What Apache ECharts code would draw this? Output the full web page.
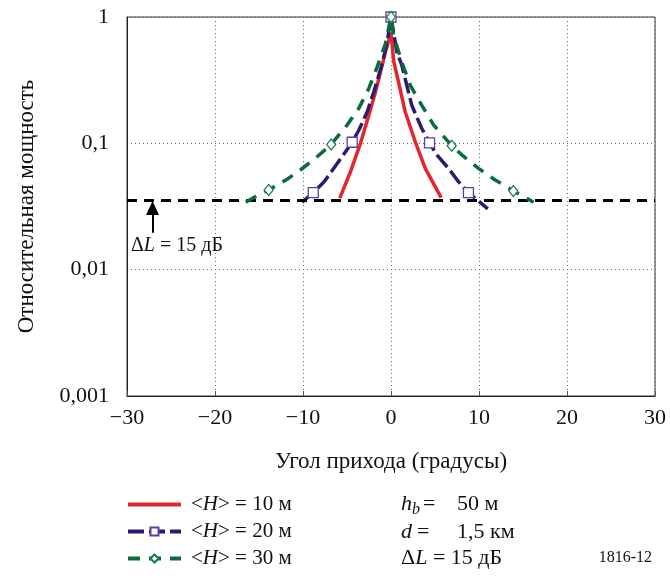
<!DOCTYPE html>
<html><head><meta charset="utf-8">
<script src="https://cdn.jsdelivr.net/npm/echarts@6/dist/echarts.min.js"></script>
<style>html,body{margin:0;padding:0;background:#fff}#c{width:670px;height:581px}</style>
</head><body><div id="c"></div>
<script>
// ---- data ----
const seriesNames = ['<H> = 10 м', '<H> = 20 м', '<H> = 30 м'];
const yTickLabels = ['0,001', '0,01', '0,1', '1'];
const xAxisTitle = 'Угол прихода (градусы)';
const yAxisTitle = 'Относительная мощность';

const redX = [-5.82, -4.6, -3.47, -2.52, -1.76, -1.19, -0.63, 0, 0.3, 0.85, 1.61, 2.75, 3.89, 5.7];
const redY = [0.0368, 0.0597, 0.1, 0.167, 0.256, 0.368, 0.53, 0.75, 0.45, 0.307, 0.178, 0.103, 0.0634, 0.0372];

const blueX = [-10.1, -8.84, -7.6, -6.5, -4.41, -3.66, -2.7, -1.95, -1.0, -0.43, 0, 0.66, 1.23, 2.36, 3.5, 4.38, 5.2, 6.53, 7.67, 8.8, 11.0];
const blueY = [0.0342, 0.0407, 0.0497, 0.0634, 0.102, 0.127, 0.178, 0.256, 0.428, 0.635, 1, 0.53, 0.415, 0.2, 0.131, 0.101, 0.081, 0.0634, 0.0497, 0.0407, 0.0303];
const blueMarkers = [1, 4, 10, 15, 19];

const greenX = [-16.5, -15.6, -13.9, -11.8, -10.3, -8.6, -6.8, -4.98, -3.66, -2.52, -1.57, -0.63, 0, 0.28, 1.23, 2.18, 3.5, 4.83, 6.9, 8.05, 9.94, 11.84, 13.9, 16.2];
const greenY = [0.0342, 0.0372, 0.0428, 0.052, 0.0615, 0.076, 0.098, 0.14, 0.189, 0.272, 0.403, 0.616, 1, 0.72, 0.44, 0.289, 0.2, 0.14, 0.0957, 0.081, 0.0634, 0.0513, 0.042, 0.0342];
const greenMarkers = [2, 6, 12, 18, 22];

const thresholdLevel = 0.0356;   // ΔL = 15 dB line
const arrowX = -27.1;
const arrowFrom = 0.0196;
const arrowTo = 0.0308;

// ---- chart ----
const FONT = 'Liberation Serif';
function pts(xs, ys, markers) {
  return xs.map((x, i) => {
    if (!markers || markers.indexOf(i) >= 0) return [x, ys[i]];
    return { value: [x, ys[i]], symbol: 'none' };
  });
}
const chart = echarts.init(document.getElementById('c'), null, { renderer: 'canvas' });
const opt = {
  animation: false,
  backgroundColor: '#fff',
  grid: { left: 127, right: 15, top: 17, bottom: 185, show: true, borderColor: '#333', borderWidth: 1, backgroundColor: 'transparent' },
  xAxis: {
    type: 'value', min: -30, max: 30, interval: 10,
    name: xAxisTitle, nameLocation: 'middle', nameGap: 54,
    nameTextStyle: { fontFamily: FONT, fontSize: 23, color: '#111' },
    axisLine: { onZero: false, lineStyle: { color: '#222', width: 1 } },
    axisTick: { inside: true, length: 5, lineStyle: { color: '#555' } },
    axisLabel: { fontFamily: FONT, fontSize: 22, color: '#111', margin: 11,
      formatter: v => String(v).replace('-', '\u2212') },
    splitLine: { show: true, lineStyle: { color: '#666', type: [1, 3], width: 1 } }
  },
  yAxis: {
    type: 'log', logBase: 10, min: 0.001, max: 1,
    name: yAxisTitle, nameLocation: 'middle', nameGap: 89,
    nameTextStyle: { fontFamily: FONT, fontSize: 23, color: '#111' },
    axisLine: { show: true, onZero: false, lineStyle: { color: '#222', width: 1 } },
    axisTick: { show: false },
    axisLabel: { fontFamily: FONT, fontSize: 22, color: '#111', margin: 18,
      formatter: v => yTickLabels[Math.round(Math.log10(v)) + 3] },
    splitLine: { show: true, lineStyle: { color: '#666', type: [1, 3], width: 1 } }
  },
  legend: {
    orient: 'vertical', left: 126, top: 494, padding: 0, itemWidth: 53, itemHeight: 10, itemGap: 6,
    data: [
      { name: seriesNames[0], itemStyle: { opacity: 0 }, lineStyle: { width: 4 } },
      { name: seriesNames[1], lineStyle: { width: 4 } },
      { name: seriesNames[2], lineStyle: { width: 4 } }
    ],
    formatter: n => n.replace('H', '{i|H}'),
    textStyle: { fontFamily: FONT, fontSize: 21, color: '#111', lineHeight: 21, padding: [0, 0, 0, 5],
      rich: { i: { fontFamily: FONT, fontSize: 21, fontStyle: 'italic', color: '#111' } } }
  },
  series: [
    { name: seriesNames[0], type: 'line', data: pts(redX, redY), symbol: 'none',
      lineStyle: { color: '#e3262b', width: 3.5 }, itemStyle: { color: '#e3262b' }, z: 3 },
    { name: seriesNames[1], type: 'line', data: pts(blueX, blueY, blueMarkers), symbol: 'rect', symbolSize: 10,
      lineStyle: { color: '#2b1b73', width: 3.5, type: [16, 5] },
      itemStyle: { color: '#fff', borderColor: '#5d3fa3', borderWidth: 1.3 }, z: 4 },
    { name: seriesNames[2], type: 'line', data: pts(greenX, greenY, greenMarkers), symbol: 'diamond', symbolSize: [9, 11],
      lineStyle: { color: '#0b6b3b', width: 3.5, type: [12, 9] },
      itemStyle: { color: '#fff', borderColor: '#1a7d4c', borderWidth: 1.3 }, z: 5 },
    { name: 'threshold', type: 'line', data: [], z: 6,
      markLine: {
        silent: true, animation: false, symbol: 'none', label: { show: false }, precision: 6,
        lineStyle: { color: '#000', width: 3, type: [10, 7] },
        data: [
          [{ coord: [-30, thresholdLevel] }, { coord: [30, thresholdLevel] }],
          [{ coord: [arrowX, arrowFrom], symbol: 'none', lineStyle: { type: 'solid', width: 2 } },
           { coord: [arrowX, arrowTo], symbol: 'triangle', symbolSize: [13, 14] }]
        ]
      } }
  ],
  graphic: [
    { type: 'text', left: 131, top: 236, style: { rich: {
        r: { fontFamily: FONT, fontSize: 20, fill: '#111' },
        i: { fontFamily: FONT, fontSize: 20, fontStyle: 'italic', fill: '#111' } },
        text: '{r|Δ}{i|L}{r| = 15 дБ}' } },
    { type: 'text', left: 401, top: 493, style: { text: 'h', font: 'italic 22px "Liberation Serif"', fill: '#111' } },
    { type: 'text', left: 412, top: 502, style: { text: 'b', font: 'italic 16px "Liberation Serif"', fill: '#111' } },
    { type: 'text', left: 423, top: 493, style: { text: '=', font: '22px "Liberation Serif"', fill: '#111' } },
    { type: 'text', left: 457, top: 493, style: { text: '50 м', font: '22px "Liberation Serif"', fill: '#111' } },
    { type: 'text', left: 401, top: 521, style: { text: 'd', font: 'italic 22px "Liberation Serif"', fill: '#111' } },
    { type: 'text', left: 417, top: 521, style: { text: '=', font: '22px "Liberation Serif"', fill: '#111' } },
    { type: 'text', left: 457, top: 521, style: { text: '1,5 км', font: '22px "Liberation Serif"', fill: '#111' } },
    { type: 'text', left: 401, top: 547, style: { rich: {
        r: { fontFamily: FONT, fontSize: 22, fill: '#111' },
        i: { fontFamily: FONT, fontSize: 22, fontStyle: 'italic', fill: '#111' } },
        text: '{r|Δ}{i|L}{r| = 15 дБ}' } },
    { type: 'text', right: 18, top: 550, style: { text: '1816-12', font: '16px "Liberation Serif"', fill: '#111' } }
  ]
};
chart.setOption(opt);
</script></body></html>
